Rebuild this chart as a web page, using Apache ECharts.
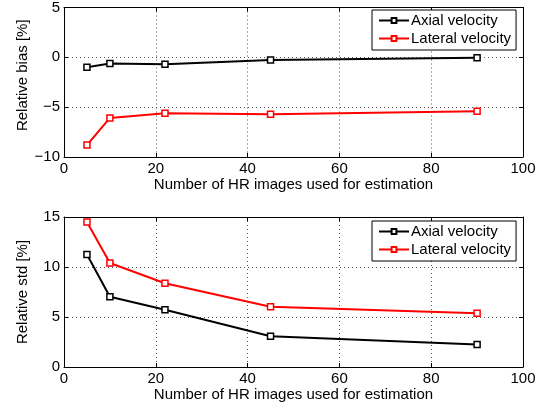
<!DOCTYPE html>
<html>
<head>
<meta charset="utf-8">
<script src="https://cdn.jsdelivr.net/npm/echarts@6/dist/echarts.min.js"></script>
<style>
  html, body { margin: 0; padding: 0; background: #fff; }
  #chart { width: 549px; height: 408px; }
</style>
</head>
<body>
<div id="chart"></div>
<script>
// Number of HR images used for each estimate
const hrImages = [5, 10, 22, 45, 90];

// Relative bias [%]
const biasAxial = [-1.0, -0.62, -0.69, -0.26, -0.03];
const biasLateral = [-8.8, -6.08, -5.6, -5.7, -5.4];

// Relative standard deviation [%]
const stdAxial = [11.26, 7.02, 5.73, 3.08, 2.25];
const stdLateral = [14.5, 10.4, 8.38, 6.03, 5.37];

const seriesNames = ['Axial velocity', 'Lateral velocity'];
const seriesColors = ['#000000', '#ff0000'];

const xTitle = 'Number of HR images used for estimation';
const yTitles = ['Relative bias [%]', 'Relative std [%]'];

const FONT = 'Liberation Sans, Arial, Helvetica, sans-serif';
const FS = 15;

function pairs(xs, ys) {
  return xs.map((x, i) => [x, ys[i]]);
}

const minusFmt = v => String(v).replace('-', '\u2212');

const gridLine = { show: true, lineStyle: { color: '#555', type: [1, 3], width: 1 } };
const frameLine = { show: true, onZero: false, lineStyle: { color: '#000', width: 1 } };
const ticksIn = { show: true, inside: true, length: 4, lineStyle: { color: '#000' } };

const grids = [
  { left: 64, right: 26, top: 6, height: 151 },
  { left: 64, right: 26, top: 217, height: 150 }
];
const yRanges = [
  { min: -10, max: 5, interval: 5 },
  { min: 0, max: 15, interval: 5 }
];
// the upper y title sits a little above the plot's centre
const yTitlePad = [[0, 0, 0, 14], [0, 0, 0, 0]];

const xAxes = [];
const yAxes = [];
grids.forEach((g, gi) => {
  xAxes.push({
    type: 'value', gridIndex: gi, position: 'bottom',
    min: 0, max: 100, interval: 20,
    name: xTitle, nameLocation: 'middle', nameGap: 20,
    nameTextStyle: { fontFamily: FONT, fontSize: FS, color: '#000' },
    axisLine: frameLine, axisTick: ticksIn,
    axisLabel: { fontFamily: FONT, fontSize: FS, color: '#000', margin: 4 },
    splitLine: gridLine
  });
  xAxes.push({
    type: 'value', gridIndex: gi, position: 'top',
    min: 0, max: 100, interval: 20,
    axisLine: frameLine, axisTick: ticksIn,
    axisLabel: { show: false }, splitLine: { show: false }
  });
  const r = yRanges[gi];
  yAxes.push({
    type: 'value', gridIndex: gi, position: 'left',
    min: r.min, max: r.max, interval: r.interval,
    name: yTitles[gi], nameLocation: 'middle', nameGap: 34, nameMoveOverlap: false,
    nameTextStyle: { fontFamily: FONT, fontSize: FS, color: '#000', padding: yTitlePad[gi] },
    axisLine: frameLine, axisTick: ticksIn,
    axisLabel: { fontFamily: FONT, fontSize: FS, color: '#000', margin: 4, formatter: minusFmt },
    splitLine: gridLine
  });
  yAxes.push({
    type: 'value', gridIndex: gi, position: 'right',
    min: r.min, max: r.max, interval: r.interval,
    axisLine: frameLine, axisTick: ticksIn,
    axisLabel: { show: false }, splitLine: { show: false }
  });
});

function lineSeries(name, color, data, gi, id) {
  return {
    id: id, name: name, type: 'line',
    xAxisIndex: gi * 2, yAxisIndex: gi * 2,
    data: data,
    symbol: 'rect', symbolSize: 6, showAllSymbol: true,
    lineStyle: { color: color, width: 2 },
    itemStyle: { color: '#fff', borderColor: color, borderWidth: 1.5 },
    emphasis: { disabled: true },
    animation: false
  };
}

const series = [
  lineSeries(seriesNames[0], seriesColors[0], pairs(hrImages, biasAxial), 0, 'ba'),
  lineSeries(seriesNames[1], seriesColors[1], pairs(hrImages, biasLateral), 0, 'bl'),
  lineSeries(seriesNames[0], seriesColors[0], pairs(hrImages, stdAxial), 1, 'sa'),
  lineSeries(seriesNames[1], seriesColors[1], pairs(hrImages, stdLateral), 1, 'sl')
];

function legendAt(top) {
  return {
    orient: 'vertical', left: 372, top: top,
    data: seriesNames,
    itemWidth: 30, itemHeight: 6, itemGap: 3,
    padding: [3, 5, 4, 6],
    borderColor: '#000', borderWidth: 1,
    backgroundColor: '#fff',
    selectedMode: false,
    textStyle: { fontFamily: FONT, fontSize: FS, color: '#000', padding: [0, 0, 0, -3] }
  };
}

const chart = echarts.init(document.getElementById('chart'), null, { renderer: 'canvas' });
chart.setOption({
  animation: false,
  backgroundColor: '#fff',
  grid: grids,
  xAxis: xAxes,
  yAxis: yAxes,
  legend: [legendAt(10), legendAt(221)],
  series: series
});
</script>
</body>
</html>
